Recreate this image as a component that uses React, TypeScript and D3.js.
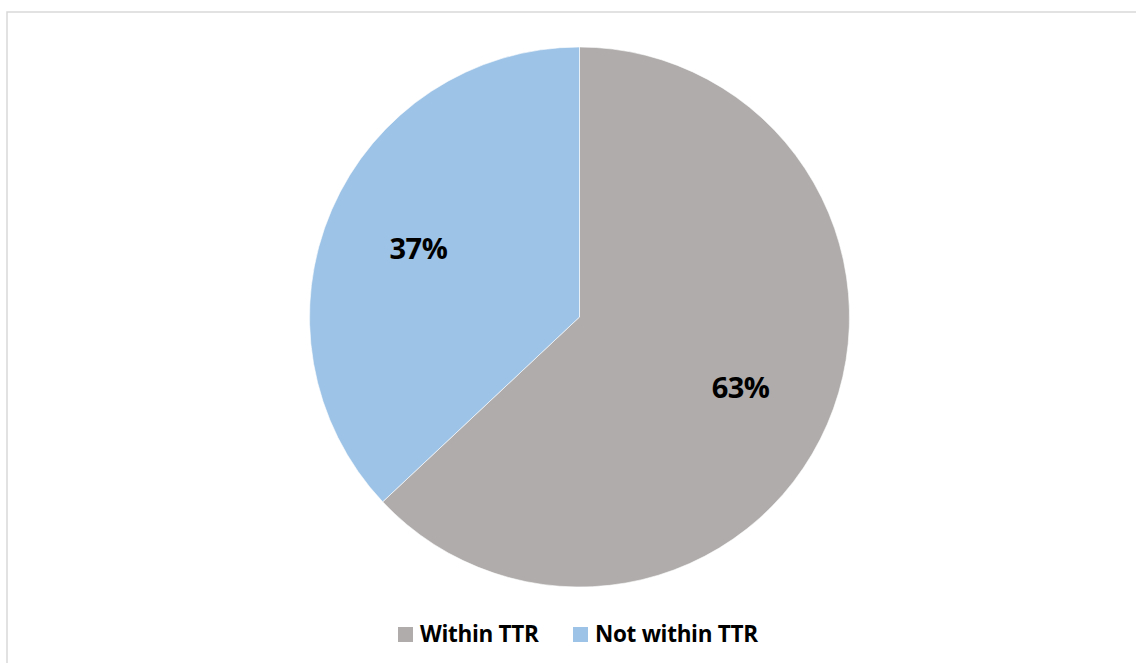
import React from "react";
import * as d3 from "d3";

const categories = ["Within TTR", "Not within TTR"];
const values = [63, 37];
const colors = ["#AFACAB", "#9DC3E6"];

const W = 1136;
const H = 663;

export default function App() {
  const cx = 579.5;
  const cy = 317;
  const r = 270;

  const pie = d3.pie<number>().sort(null).value((d) => d);
  const arcs = pie(values);
  const arc = d3.arc<d3.PieArcDatum<number>>().innerRadius(0).outerRadius(r);
  const labelArc = d3
    .arc<d3.PieArcDatum<number>>()
    .innerRadius(r * 0.65)
    .outerRadius(r * 0.65);

  const font = "'Open Sans', 'DejaVu Sans', sans-serif";

  // legend layout
  const legendItems = [
    { x: 398, tx: 420 },
    { x: 573, tx: 595 },
  ];

  return (
    <svg
      width={W}
      height={H}
      style={{ position: "absolute", left: 0, top: 0, display: "block" }}
    >
      <rect x={0} y={0} width={W} height={H} fill="#fff" />
      <rect
        x={7}
        y={12}
        width={W + 10}
        height={H + 10}
        fill="#fff"
        stroke="#d9d9d9"
        strokeWidth={1.5}
      />
      <g transform={`translate(${cx},${cy})`}>
        {arcs.map((a, i) => (
          <path
            key={categories[i]}
            d={arc(a) || ""}
            fill={colors[i]}
            stroke="#ffffff"
            strokeWidth={0.6}
          />
        ))}
        {arcs.map((a, i) => {
          const [lx, ly] = labelArc.centroid(a);
          return (
            <text
              key={"l" + i}
              x={lx}
              y={ly}
              textAnchor="middle"
              dominantBaseline="central"
              fontFamily={font}
              fontWeight={700}
              fontSize={29}
              fill="#000"
              letterSpacing={-0.5}
            >
              {values[i]}%
            </text>
          );
        })}
      </g>
      {categories.map((c, i) => (
        <g key={"leg" + i}>
          <rect
            x={legendItems[i].x}
            y={627}
            width={15}
            height={15}
            fill={colors[i]}
          />
          <text
            x={legendItems[i].tx}
            y={642}
            fontFamily={font}
            fontWeight={700}
            fontSize={22.5}
            fill="#000"
            letterSpacing={-0.3}
          >
            {c}
          </text>
        </g>
      ))}
    </svg>
  );
}
